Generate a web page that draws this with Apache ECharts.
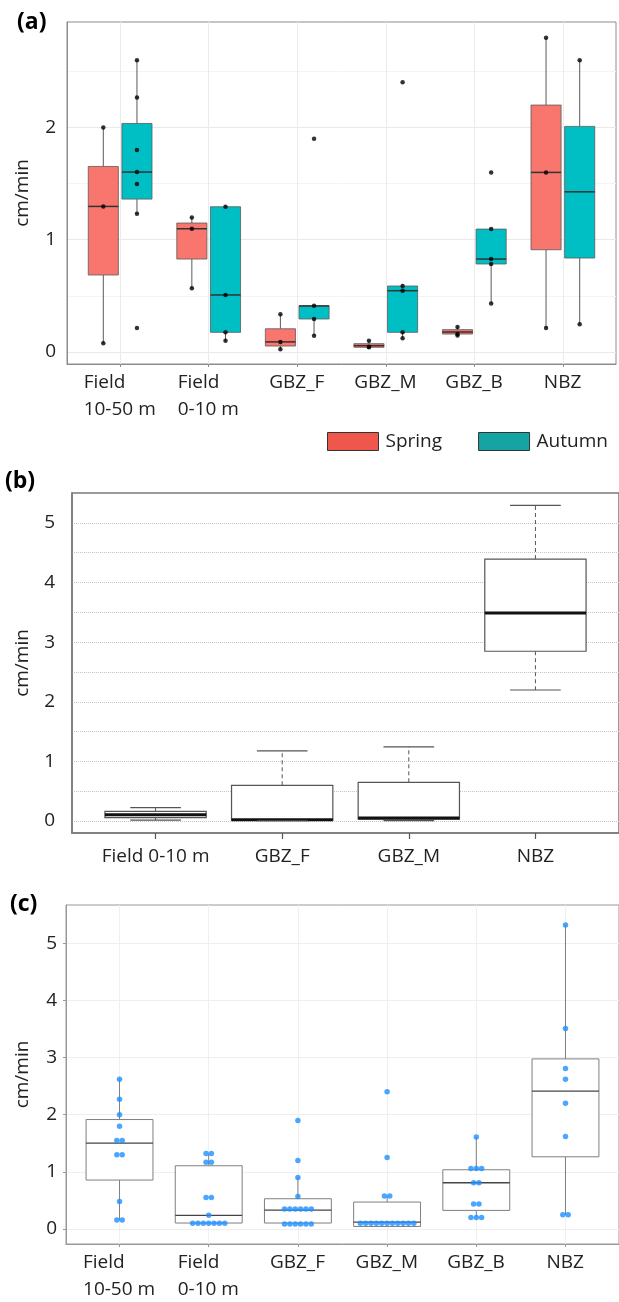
<!DOCTYPE html>
<html>
<head>
<meta charset="utf-8">
<script src="https://cdn.jsdelivr.net/npm/echarts@6/dist/echarts.min.js"></script>
<style>
html, body { margin: 0; padding: 0; background: #fff; }
#chart { width: 619px; height: 1302px; }
</style>
</head>
<body>
<div id="chart"></div>
<script>
// (a) sites, split by season; box stats are [low, q1, median, q3, high]
const catsA = ['Field\n10-50 m', 'Field\n0-10 m', 'GBZ_F', 'GBZ_M', 'GBZ_B', 'NBZ'];
const springBoxA = [
  [0.077, 0.686, 1.297, 1.653, 2.0],
  [0.567, 0.828, 1.098, 1.149, 1.199],
  [0.024, 0.053, 0.09, 0.207, 0.336],
  [0.042, 0.042, 0.056, 0.074, 0.10],
  [0.148, 0.16, 0.178, 0.199, 0.223],
  [0.214, 0.911, 1.60, 2.20, 2.80]
];
const autumnBoxA = [
  [1.232, 1.362, 1.603, 2.036, 2.60],
  [0.10, 0.175, 0.508, 1.294, 1.294],
  [0.145, 0.294, 0.41, 0.412, 0.412],
  [0.122, 0.175, 0.546, 0.588, 0.588],
  [0.433, 0.784, 0.828, 1.095, 1.095],
  [0.247, 0.837, 1.427, 2.01, 2.60]
];
const springPtsA = [
  [2.0, 1.297, 0.077],
  [1.199, 1.098, 0.567],
  [0.336, 0.09, 0.024],
  [0.10, 0.046, 0.042],
  [0.223, 0.16, 0.148],
  [2.80, 1.60, 0.214]
];
const autumnPtsA = [
  [2.60, 2.268, 1.80, 1.603, 1.496, 1.232, 0.214],
  [1.294, 0.508, 0.175, 0.10],
  [1.90, 0.412, 0.294, 0.145],
  [2.404, 0.588, 0.546, 0.175, 0.122],
  [1.60, 1.095, 0.828, 0.784, 0.433],
  [2.60, 0.247]
];
const ticksA = [0, 1, 2];
const linesA = [0, 0.5, 1, 1.5, 2, 2.5];

// (b)
const catsB = ['Field 0-10 m', 'GBZ_F', 'GBZ_M', 'NBZ'];
const boxB = [
  [0.017, 0.057, 0.107, 0.163, 0.225],
  [0.005, 0.01, 0.022, 0.60, 1.176],
  [0.006, 0.034, 0.05, 0.65, 1.244],
  [2.197, 2.847, 3.49, 4.393, 5.294]
];
const ticksB = [0, 1, 2, 3, 4, 5];
const linesB = [0, 0.5, 1, 1.5, 2, 2.5, 3, 3.5, 4, 4.5, 5];

// (c)
const catsC = ['Field\n10-50 m', 'Field\n0-10 m', 'GBZ_F', 'GBZ_M', 'GBZ_B', 'NBZ'];
const boxC = [
  [0.157, 0.857, 1.503, 1.916, 2.62],
  [0.105, 0.105, 0.238, 1.107, 1.317],
  [0.087, 0.105, 0.332, 0.53, 0.91],
  [0.045, 0.045, 0.122, 0.472, 0.58],
  [0.203, 0.326, 0.81, 1.037, 1.614],
  [0.245, 1.264, 2.412, 2.977, 5.32]
];
const ptsC = [
  [2.62, 2.27, 2.0, 1.8, 1.55, 1.55, 1.3, 1.3, 0.48, 0.16, 0.16],
  [1.32, 1.32, 1.17, 1.17, 0.55, 0.55, 0.24, 0.1, 0.1, 0.1, 0.1, 0.1, 0.1, 0.1],
  [1.9, 1.2, 0.9, 0.57, 0.35, 0.35, 0.35, 0.35, 0.35, 0.35, 0.09, 0.09, 0.09, 0.09, 0.09, 0.09],
  [2.4, 1.25, 0.58, 0.58, 0.1, 0.1, 0.1, 0.1, 0.1, 0.1, 0.1, 0.1, 0.1, 0.1, 0.1],
  [1.61, 1.06, 1.06, 1.06, 0.81, 0.81, 0.44, 0.44, 0.2, 0.2, 0.2],
  [5.32, 3.51, 2.81, 2.62, 2.2, 1.62, 0.25, 0.25]
];
const ticksC = [0, 1, 2, 3, 4, 5];

const FONT = '"Open Sans", sans-serif';
const TXT = '#222';

const measure = document.createElement('canvas').getContext('2d');
measure.font = '19px "Open Sans"';

// two-line labels: block centred on the tick, lines left aligned
function blockLabels(cats) {
  const rich = {};
  cats.forEach((c, i) => {
    const w = Math.max(...c.split('\n').map(l => measure.measureText(l).width));
    rich['c' + i] = { width: Math.ceil(w), align: 'left', fontSize: 19, fontFamily: FONT, color: TXT, lineHeight: 27 };
  });
  return {
    rich: rich,
    formatter: v => {
      const i = Math.round(v);
      return catsLines(cats[i]).map(l => '{c' + i + '|' + l + '}').join('\n');
    }
  };
}
function catsLines(s) { return s.split('\n'); }

function boxRenderer(o) {
  return function (params, api) {
    const x = api.value(0);
    const low = api.coord([x, api.value(1)]);
    const q1 = api.coord([x, api.value(2)]);
    const med = api.coord([x, api.value(3)]);
    const q3 = api.coord([x, api.value(4)]);
    const high = api.coord([x, api.value(5)]);
    const hw = api.size([o.width, 0])[0] / 2;
    const cx = low[0];
    const wStyle = { stroke: o.whisker, lineWidth: 1, lineDash: o.dash || null };
    const kids = [
      { type: 'line', shape: { x1: cx, y1: q3[1], x2: cx, y2: high[1] }, style: wStyle },
      { type: 'line', shape: { x1: cx, y1: q1[1], x2: cx, y2: low[1] }, style: wStyle },
      { type: 'rect', shape: { x: cx - hw, y: q3[1], width: 2 * hw, height: q1[1] - q3[1] },
        style: { fill: o.fill || api.visual('color'), stroke: o.border, lineWidth: o.borderWidth } },
      { type: 'line', shape: { x1: cx - hw, y1: med[1], x2: cx + hw, y2: med[1] },
        style: { stroke: o.median, lineWidth: o.medianWidth } }
    ];
    if (o.cap) {
      const cw = api.size([o.cap, 0])[0] / 2;
      kids.push({ type: 'line', shape: { x1: cx - cw, y1: high[1], x2: cx + cw, y2: high[1] }, style: { stroke: o.border, lineWidth: o.borderWidth } });
      kids.push({ type: 'line', shape: { x1: cx - cw, y1: low[1], x2: cx + cw, y2: low[1] }, style: { stroke: o.border, lineWidth: o.borderWidth } });
    }
    return { type: 'group', children: kids };
  };
}

function dotRows(pts, i, step) {
  const counts = {}, seen = {};
  pts.forEach(v => { counts[v] = (counts[v] || 0) + 1; });
  return pts.map(v => {
    const k = seen[v] = (seen[v] || 0) + 1;
    return [i + (k - 1 - (counts[v] - 1) / 2) * step, v];
  });
}

const DODGE = 0.19;
const idxA = catsA.map((_, i) => i);
const idxB = catsB.map((_, i) => i);
const idxC = catsC.map((_, i) => i);

const ptsA = [];
springPtsA.forEach((arr, i) => arr.forEach(v => ptsA.push([i - DODGE, v])));
autumnPtsA.forEach((arr, i) => arr.forEach(v => ptsA.push([i + DODGE, v])));
const dotsC = [];
ptsC.forEach((arr, i) => dotRows(arr, i, 0.06).forEach(p => dotsC.push(p)));

const labelStyle = { fontSize: 19, fontFamily: FONT, color: TXT };
const nameStyle = { fontSize: 19, fontFamily: FONT, color: TXT };
const titleStyle = { fontSize: 23, fontWeight: 'bold', fontFamily: FONT, color: '#000' };

const chart = echarts.init(document.getElementById('chart'), null, { renderer: 'canvas' });
chart.setOption({
  animation: false,
  backgroundColor: '#fff',
  title: [
    { text: '(a)', left: 12, top: 6, padding: 5, textStyle: titleStyle },
    { text: '(b)', left: 0, top: 465, padding: 5, textStyle: titleStyle },
    { text: '(c)', left: 5, top: 888, padding: 5, textStyle: titleStyle }
  ],
  legend: {
    left: 322, top: 427, itemWidth: 51, itemHeight: 18, itemGap: 36, icon: 'rect',
    selectedMode: false,
    textStyle: { fontSize: 19, fontFamily: FONT, color: TXT, padding: [0, 0, 0, 2] },
    data: [
      { name: 'Spring', itemStyle: { color: '#F0574C', borderColor: '#333', borderWidth: 1 } },
      { name: 'Autumn', itemStyle: { color: '#16A4A2', borderColor: '#333', borderWidth: 1 } }
    ]
  },
  grid: [
    { left: 67, top: 22, width: 549, height: 342, show: true, borderColor: '#8c8c8c', borderWidth: 1 },
    { left: 72, top: 493, width: 550, height: 340, show: true, borderColor: '#7a7a7a', borderWidth: 1.5 },
    { left: 66, top: 905, width: 558, height: 339, show: true, borderColor: '#999', borderWidth: 1 }
  ],
  xAxis: [
    {
      gridIndex: 0, type: 'value', min: -0.6, max: 5.6,
      axisLine: { onZero: false, lineStyle: { color: '#8c8c8c' } },
      axisTick: { customValues: idxA, length: 3, lineStyle: { color: '#8c8c8c' } },
      axisLabel: Object.assign({ customValues: idxA, margin: 5 }, blockLabels(catsA)),
      splitLine: { show: true, lineStyle: { color: '#ebebeb' } }
    },
    {
      gridIndex: 1, type: 'value', min: -0.66, max: 3.66,
      axisLine: { onZero: false, lineStyle: { color: '#7a7a7a', width: 1.5 } },
      axisTick: { customValues: idxB, length: 6, lineStyle: { color: '#555', width: 1.2 } },
      axisLabel: Object.assign({ customValues: idxB, margin: 14, formatter: v => catsB[Math.round(v)] }, labelStyle),
      splitLine: { show: false }
    },
    {
      gridIndex: 2, type: 'value', min: -0.6, max: 5.6,
      axisLine: { onZero: false, lineStyle: { color: '#999' } },
      axisTick: { customValues: idxC, length: 3, lineStyle: { color: '#999' } },
      axisLabel: Object.assign({ customValues: idxC, margin: 5 }, blockLabels(catsC)),
      splitLine: { show: true, lineStyle: { color: '#efefef' } }
    }
  ],
  yAxis: [
    {
      gridIndex: 0, type: 'value', min: -0.107, max: 2.94,
      name: 'cm/min', nameLocation: 'middle', nameGap: 35, nameTextStyle: nameStyle,
      axisLine: { show: true, onZero: false, lineStyle: { color: '#8c8c8c' } },
      axisTick: { show: false, customValues: linesA },
      axisLabel: Object.assign({ customValues: ticksA, margin: 11 }, labelStyle),
      splitLine: { show: true, lineStyle: { color: ['#e9e9e9', '#f4f4f4'] } }
    },
    {
      gridIndex: 1, type: 'value', min: -0.2, max: 5.5,
      name: 'cm/min', nameLocation: 'middle', nameGap: 40, nameTextStyle: nameStyle,
      axisLine: { show: true, onZero: false, lineStyle: { color: '#7a7a7a', width: 1.5 } },
      axisTick: { show: false, customValues: linesB },
      axisLabel: Object.assign({ customValues: ticksB, margin: 17 }, labelStyle),
      splitLine: { show: true, lineStyle: { color: '#c4c4c4', type: 'dotted' } }
    },
    {
      gridIndex: 2, type: 'value', min: -0.262, max: 5.67,
      name: 'cm/min', nameLocation: 'middle', nameGap: 34, nameTextStyle: nameStyle,
      axisLine: { show: true, onZero: false, lineStyle: { color: '#999' } },
      axisTick: { show: true, customValues: ticksC, length: 3, lineStyle: { color: '#999' } },
      axisLabel: Object.assign({ customValues: ticksC, margin: 9 }, labelStyle),
      splitLine: { show: true, lineStyle: { color: '#efefef' } }
    }
  ],
  series: [
    {
      name: 'Spring', type: 'custom', xAxisIndex: 0, yAxisIndex: 0, z: 2,
      itemStyle: { color: '#F8766D' },
      encode: { x: 0, y: [1, 2, 3, 4, 5] },
      renderItem: boxRenderer({ width: 0.34, whisker: '#5a5a5a', border: '#5a5a5a', borderWidth: 0.8, median: '#333', medianWidth: 1.5 }),
      data: springBoxA.map((b, i) => [i - DODGE].concat(b))
    },
    {
      name: 'Autumn', type: 'custom', xAxisIndex: 0, yAxisIndex: 0, z: 2,
      itemStyle: { color: '#00BFC4' },
      encode: { x: 0, y: [1, 2, 3, 4, 5] },
      renderItem: boxRenderer({ width: 0.34, whisker: '#5a5a5a', border: '#5a5a5a', borderWidth: 0.8, median: '#333', medianWidth: 1.5 }),
      data: autumnBoxA.map((b, i) => [i + DODGE].concat(b))
    },
    {
      name: 'pointsA', type: 'scatter', xAxisIndex: 0, yAxisIndex: 0, z: 3,
      symbolSize: 4.5, itemStyle: { color: '#000' }, data: ptsA
    },
    {
      name: 'boxB', type: 'custom', xAxisIndex: 1, yAxisIndex: 1, z: 2,
      encode: { x: 0, y: [1, 2, 3, 4, 5] },
      renderItem: boxRenderer({ width: 0.8, cap: 0.4, dash: [4, 3], whisker: '#555', fill: '#fff', border: '#555', borderWidth: 1.2, median: '#111', medianWidth: 3 }),
      data: boxB.map((b, i) => [i].concat(b))
    },
    {
      name: 'boxC', type: 'custom', xAxisIndex: 2, yAxisIndex: 2, z: 2,
      encode: { x: 0, y: [1, 2, 3, 4, 5] },
      renderItem: boxRenderer({ width: 0.75, whisker: '#7f7f7f', fill: '#fff', border: '#7f7f7f', borderWidth: 1, median: '#444', medianWidth: 1.3 }),
      data: boxC.map((b, i) => [i].concat(b))
    },
    {
      name: 'pointsC', type: 'scatter', xAxisIndex: 2, yAxisIndex: 2, z: 3,
      symbolSize: 5.5, itemStyle: { color: '#1E90FF' }, data: dotsC
    }
  ]
});
</script>
</body>
</html>
